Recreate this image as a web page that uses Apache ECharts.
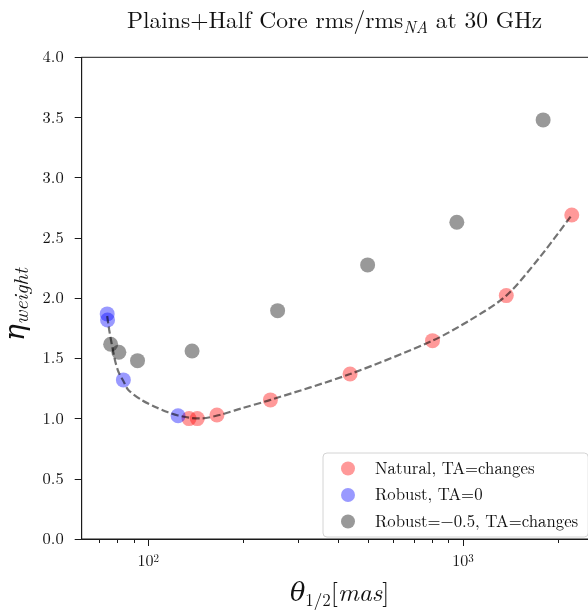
<!DOCTYPE html>
<html>
<head>
<meta charset="utf-8">
<script src="https://cdn.jsdelivr.net/npm/echarts@6/dist/echarts.min.js"></script>
<style>
  html, body { margin: 0; padding: 0; background: #fff; }
  #chart { width: 588px; height: 614px; }
</style>
</head>
<body>
<div id="chart"></div>
<script>
// Beam size θ1/2 [mas] vs. η_weight for the three weighting schemes
const naturalX = [134.8, 143.2, 165.3, 244.4, 437.5, 799.5, 1371, 2213];
const naturalY = [1.00, 1.00, 1.03, 1.155, 1.37, 1.647, 2.021, 2.691];

const robustX = [74.1, 74.3, 83.4, 124.4];
const robustY = [1.869, 1.819, 1.321, 1.024];

const robustNegX = [76.0, 80.7, 92.5, 137.8, 257.6, 497.5, 955, 1795];
const robustNegY = [1.617, 1.551, 1.481, 1.561, 1.896, 2.276, 2.630, 3.480];

// dashed trend curve through the Robust/Natural points
const fitX = [74.1, 75.2, 76.5, 78.4, 80.5, 83.4, 86.5, 95.2, 104.9, 115.7, 124.4,
              137.1, 147.5, 170.7, 197.4, 244.4, 437.5, 799.5, 1054, 1371, 1758, 2213];
const fitY = [1.852, 1.736, 1.628, 1.487, 1.387, 1.312, 1.238, 1.155, 1.099, 1.052, 1.026,
              1.005, 1.002, 1.034, 1.084, 1.155, 1.370, 1.647, 1.819, 2.021, 2.345, 2.691];

const legendNames = ['Natural, TA=changes', 'Robust, TA=0', 'Robust=\u22120.5, TA=changes'];
const majorTicks = [100, 1000];
const minorTicks = [70, 80, 90, 200, 300, 400, 500, 600, 700, 800, 900, 2000];
const xMin = 61.5, xMax = 2673;
const yMin = 0, yMax = 4, yStep = 0.5;

const SERIF = '"Latin Modern Roman", "CMU Serif", "DejaVu Serif", "Liberation Serif", serif';
const AXIS = '#1a1a1a';

const pairs = (xs, ys) => xs.map((x, i) => [x, ys[i]]);

const chart = echarts.init(document.getElementById('chart'), null, { renderer: 'canvas' });

chart.setOption({
  animation: false,
  backgroundColor: '#fff',
  title: {
    text: 'Plains+Half Core rms/rms{sub|NA} at 30 GHz',
    left: 122,
    top: 1,
    textStyle: {
      fontFamily: SERIF, fontSize: 23.5, fontWeight: 'normal', color: '#111', lineHeight: 30,
      rich: {
        sub: { fontFamily: SERIF, fontSize: 16.5, fontStyle: 'italic', color: '#111',
               verticalAlign: 'bottom', lineHeight: 17 }
      }
    }
  },
  legend: {
    orient: 'vertical',
    left: 323, top: 453,
    padding: [7, 10, 7, 18],
    itemGap: 9.5,
    itemWidth: 14, itemHeight: 14,
    icon: 'circle',
    backgroundColor: 'rgba(255,255,255,0.8)',
    borderColor: '#d4d4d4', borderWidth: 1, borderRadius: 4,
    textStyle: { fontFamily: SERIF, fontSize: 16.8, color: '#111', padding: [0, 0, 0, 15], lineHeight: 14 },
    data: legendNames
  },
  grid: {
    left: 81.7, top: 57.3, width: 515.9, height: 481.7,
    outerBoundsMode: 'none', containLabel: false,
    show: true, borderColor: AXIS, borderWidth: 1, backgroundColor: 'transparent'
  },
  xAxis: [
    {
      type: 'log', logBase: 10, min: xMin, max: xMax,
      axisLine: { show: true, lineStyle: { color: AXIS, width: 1 } },
      axisTick: { show: true, customValues: majorTicks, length: 7, lineStyle: { color: AXIS, width: 1 } },
      axisLabel: {
        customValues: majorTicks, margin: 14, color: '#111',
        fontFamily: SERIF, fontSize: 16,
        formatter: v => '10{sup|' + Math.round(Math.log10(v)) + '}',
        rich: { sup: { fontFamily: SERIF, fontSize: 11, verticalAlign: 'top', lineHeight: 10, color: '#111' } }
      },
      splitLine: { show: false },
      name: '{it|θ}{sub|1/2}{n|[}{it|mas}{n|]}',
      nameLocation: 'middle', nameGap: 39,
      nameTextStyle: {
        fontFamily: SERIF, fontSize: 25.5, color: '#111', lineHeight: 31,
        rich: {
          it: { fontFamily: SERIF, fontSize: 25.5, fontStyle: 'italic', color: '#111' },
          n: { fontFamily: SERIF, fontSize: 25.5, color: '#111' },
          sub: { fontFamily: SERIF, fontSize: 17, color: '#111', verticalAlign: 'bottom', lineHeight: 17 }
        }
      }
    },
    {
      type: 'log', logBase: 10, min: xMin, max: xMax, position: 'bottom',
      axisLine: { show: false },
      axisTick: { show: true, customValues: minorTicks, length: 4, lineStyle: { color: AXIS, width: 1 } },
      axisLabel: { show: false },
      splitLine: { show: false }
    }
  ],
  yAxis: {
    type: 'value', min: yMin, max: yMax, interval: yStep,
    axisLine: { show: true, lineStyle: { color: AXIS, width: 1 } },
    axisTick: { show: true, length: 7, lineStyle: { color: AXIS, width: 1 } },
    axisLabel: { margin: 18, color: '#111', fontFamily: SERIF, fontSize: 16.5, formatter: v => v.toFixed(1) },
    splitLine: { show: false },
    name: '{eta|η}{sub|weight}',
    nameLocation: 'middle', nameRotate: 90, nameGap: 35,
    nameTextStyle: {
      fontFamily: SERIF, color: '#111', lineHeight: 33, padding: [0, 13, 0, 0],
      rich: {
        eta: { fontFamily: SERIF, fontSize: 28, fontStyle: 'italic', color: '#111' },
        sub: { fontFamily: SERIF, fontSize: 20.5, fontStyle: 'italic', color: '#111',
               verticalAlign: 'bottom', lineHeight: 20 }
      }
    }
  },
  series: [
    {
      name: legendNames[0], type: 'scatter', xAxisIndex: 0,
      data: pairs(naturalX, naturalY), symbolSize: 15,
      itemStyle: { color: 'rgba(255,0,0,0.5)' }, z: 2
    },
    {
      name: legendNames[1], type: 'scatter', xAxisIndex: 0,
      data: pairs(robustX, robustY), symbolSize: 15,
      itemStyle: { color: 'rgba(0,0,255,0.5)' }, z: 2
    },
    {
      name: legendNames[2], type: 'scatter', xAxisIndex: 0,
      data: pairs(robustNegX, robustNegY), symbolSize: 15,
      itemStyle: { color: 'rgba(0,0,0,0.5)' }, z: 2
    },
    {
      name: 'trend', type: 'line', xAxisIndex: 0,
      data: pairs(fitX, fitY), smooth: 0.3, showSymbol: false, symbol: 'none',
      lineStyle: { color: 'rgba(0,0,0,0.55)', width: 2.2, type: [7.4, 3.2] },
      z: 3, silent: true
    }
  ]
});
</script>
</body>
</html>
